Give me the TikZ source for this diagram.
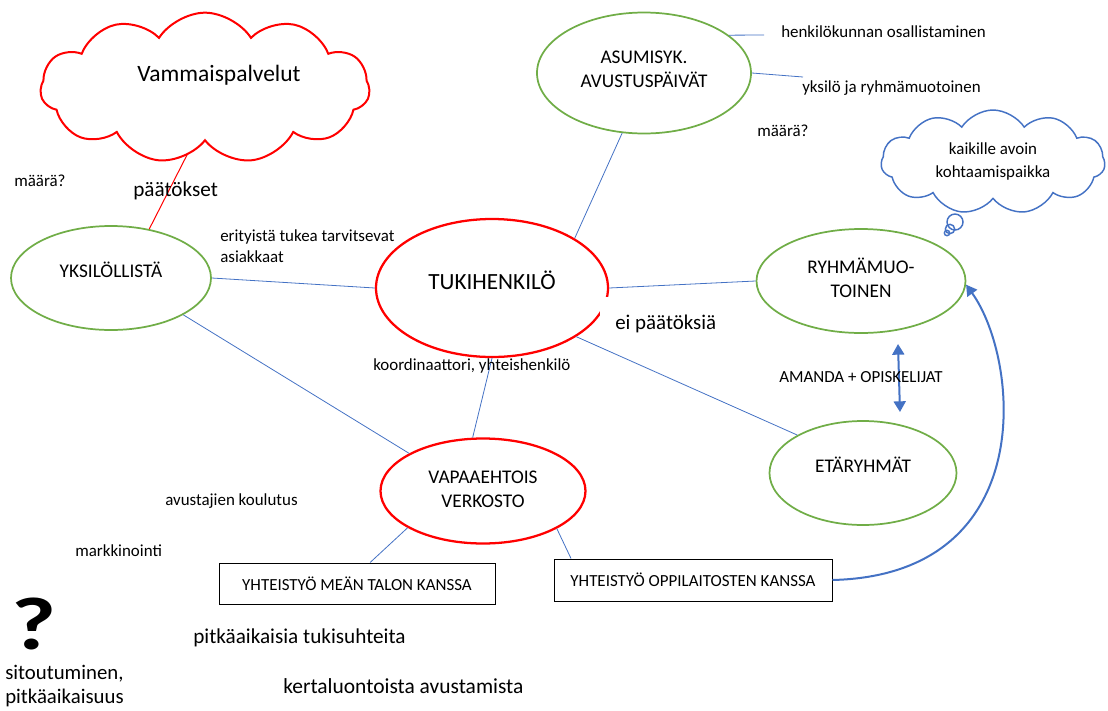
\documentclass[tikz,border=0pt]{standalone}
\usepackage{fontspec}
\setmainfont{Carlito}
\usetikzlibrary{shapes.geometric,shapes.symbols,arrows.meta}
\definecolor{xred}{HTML}{FF0000}
\definecolor{xgreen}{HTML}{70AD47}
\definecolor{xblue}{HTML}{4472C4}
\begin{document}
\begin{tikzpicture}[x=0.75pt,y=-0.75pt,
  redell/.style={ellipse,draw=xred,line width=1.7pt,inner sep=0pt,align=center,font=\fontsize{14.5}{18}\selectfont},
  greenell/.style={ellipse,draw=xgreen,line width=1.3pt,inner sep=0pt,align=center,font=\fontsize{14.5}{18}\selectfont},
  conn/.style={draw=xblue,line width=0.6pt},
  boxnode/.style={draw=black,line width=0.75pt,inner sep=0pt,font=\fontsize{12.7}{14}\selectfont},
  lbl/.style={anchor=west,inner sep=0pt,font=\fontsize{12.7}{15.75}\selectfont,align=left},
  biglbl/.style={anchor=west,inner sep=0pt,font=\fontsize{15.9}{18}\selectfont,align=left},
  cloudnode/.style={cloud,cloud puffs=11,cloud puff arc=115,inner sep=0pt},
  bluearrow/.style={draw=xblue,line width=1.5pt,-{Triangle[width=9pt,length=8pt]}},
  dblarrow/.style={draw=xblue,line width=1.5pt,{Triangle[width=9pt,length=8pt]}-{Triangle[width=9pt,length=8pt]}}
]
\useasboundingbox (0,0) rectangle (1108,711);

% clouds
\node[cloudnode,draw=xred,line width=1.5pt,aspect=2.2,minimum width=247pt,minimum height=113pt] (vp) at (205,88) {};
\node[font=\fontsize{17.6}{20}\selectfont,inner sep=0pt] (vptext) at (219,75) {Vammaispalvelut};
\node[cloudnode,draw=xblue,line width=1.1pt,aspect=2.1,minimum width=168pt,minimum height=78pt,align=center,font=\fontsize{12.7}{17}\selectfont] (kaik) at (993,162) {\raisebox{3pt}{kaikille avoin}\\\raisebox{3pt}{kohtaamispaikka}};
\node[circle,draw=xblue,line width=1.1pt,minimum size=12pt,inner sep=0pt] (t1) at (955,222) {};
\node[circle,draw=xblue,line width=1.1pt,minimum size=7pt,inner sep=0pt] (t2) at (950,229) {};
\node[circle,draw=xblue,line width=1.1pt,minimum size=4pt,inner sep=0pt] (t3) at (947,233) {};

% ellipses
\node[redell,minimum width=174pt,minimum height=103.5pt,font=\fontsize{17.4}{20}\selectfont] (tuki) at (492,288) {\raisebox{11pt}{TUKIHENKILÖ}};
\node[greenell,minimum width=150pt,minimum height=78pt] (yks) at (111,278) {\raisebox{12pt}{YKSILÖLLISTÄ}};
\node[greenell,minimum width=160.5pt,minimum height=90.75pt] (asu) at (644,73) {\raisebox{6pt}{ASUMISYK.}\\\raisebox{6pt}{AVUSTUSPÄIVÄT}};
\node[greenell,minimum width=156.75pt,minimum height=78pt] (ryh) at (861,281) {\raisebox{5pt}{RYHMÄMUO-}\\\raisebox{5pt}{TOINEN}};
\node[greenell,minimum width=140.25pt,minimum height=78pt] (eta) at (863,473) {\raisebox{12pt}{ETÄRYHMÄT}};
\node[redell,minimum width=153.75pt,minimum height=78.75pt] (vap) at (483,491) {\raisebox{2pt}{VAPAAEHTOIS}\\\raisebox{2pt}{VERKOSTO}};

% boxes
\node[boxnode,minimum width=207pt,minimum height=30.75pt] (mean) at (357,583.5) {YHTEISTYÖ MEÄN TALON KANSSA};
\node[boxnode,minimum width=208.5pt,minimum height=31.5pt] (oppi) at (693,580) {YHTEISTYÖ OPPILAITOSTEN KANSSA};

% connectors
\draw[conn] (yks.east) -- (tuki.west);
\draw[conn] (tuki.31.6) -- (asu.250);
\draw[conn] (tuki.east) -- (ryh.west);
\draw[conn] (tuki.-30.6) -- (eta.150);
\draw[conn] (tuki.south) -- (vap.101);
\draw[conn] (yks.333) -- (vap.153.4);
\draw[conn] (vap.206) -- (mean.58);
\draw[conn] (vap.333.4) -- (oppi.170);
\coordinate (f1) at (764,35);
\coordinate (f2) at (803,77);
\draw[conn] (asu.24.8) -- (f1);
\draw[conn] (asu.east) -- (f2);
\coordinate (vpfoot) at (188,153);
\draw[xred,line width=0.75pt] (vpfoot) -- (yks.52);

% arrows
\draw[bluearrow] (oppi.east) .. controls (1040,575) and (1020,360) .. (ryh.-2);
\coordinate (d1) at (898,344);
\coordinate (d2) at (900,412);
\draw[dblarrow] (d1) -- (d2);

% labels
\node[lbl] (l1) at (781,32) {henkilökunnan osallistaminen};
\node[lbl] (l2) at (802,88) {yksilö ja ryhmämuotoinen};
\node[lbl] (l3) at (757,131) {määrä?};
\node[lbl] (l4) at (14,181) {määrä?};
\node[anchor=west,inner sep=0pt,font=\fontsize{15.9}{18}\selectfont] (l5) at (133,191) {päätökset};
\node[lbl] (l6) at (220,246.5) {erityistä tukea tarvitsevat\\asiakkaat};
\fill[white] (600,297) rectangle (720,340);
\node[anchor=west,inner sep=0pt,font=\fontsize{15.7}{18}\selectfont] (l7) at (615,324) {ei päätöksiä};
\node[lbl] (l8) at (373,366) {koordinaattori, yhteishenkilö};
\node[lbl] (l9) at (779,377) {AMANDA + OPISKELIJAT};
\node[lbl] (l10) at (165,501) {avustajien koulutus};
\node[lbl] (l11) at (75,551) {markkinointi};
\node[inner sep=0pt,font=\fontsize{56}{60}\selectfont\bfseries] (q) at (34,624) {\scalebox{1.3}[1]{?}};
\node[biglbl] (l12) at (193,638) {pitkäaikaisia tukisuhteita};
\node[biglbl,font=\fontsize{15.6}{17.5}\selectfont] (l13) at (5,686) {sitoutuminen,\\pitkäaikaisuus};
\node[biglbl,font=\fontsize{16.1}{18}\selectfont] (l14) at (283,686) {kertaluontoista avustamista};
\end{tikzpicture}
\end{document}
